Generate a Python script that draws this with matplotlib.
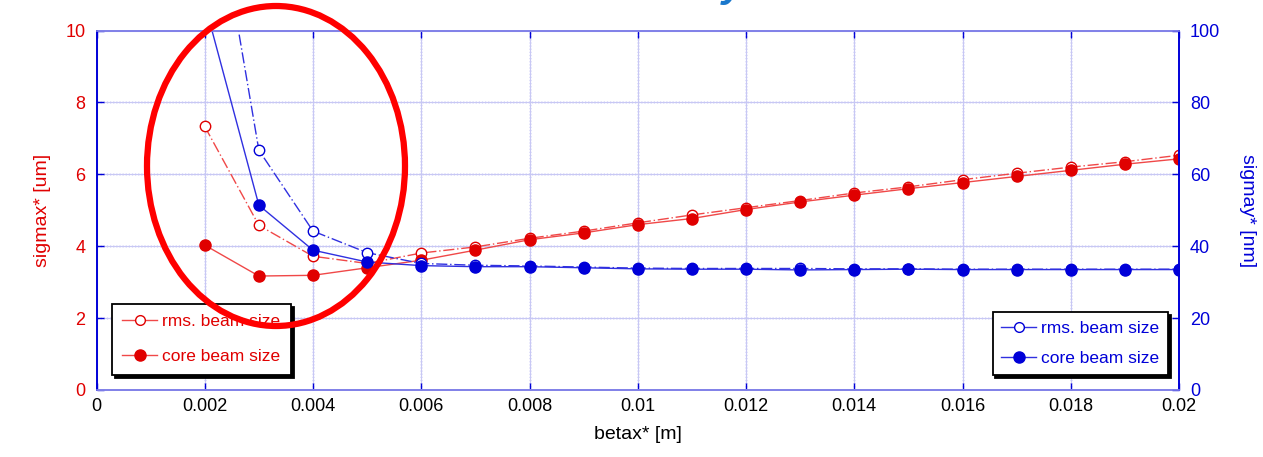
import matplotlib
matplotlib.use("Agg")
import matplotlib.pyplot as plt
from matplotlib.lines import Line2D
from matplotlib.patches import Ellipse

plt.rcParams['font.family'] = ['Liberation Sans', 'DejaVu Sans']

# beam sizes vs horizontal beta* at the IP
betax = [0.002, 0.003, 0.004, 0.005, 0.006, 0.007, 0.008, 0.009, 0.010, 0.011,
         0.012, 0.013, 0.014, 0.015, 0.016, 0.017, 0.018, 0.019, 0.020]
sigx_rms = [7.33, 4.58, 3.72, 3.52, 3.81, 3.98, 4.22, 4.42, 4.65, 4.87,
            5.07, 5.27, 5.48, 5.65, 5.85, 6.03, 6.20, 6.35, 6.53]
sigx_core = [4.03, 3.17, 3.19, 3.40, 3.61, 3.89, 4.18, 4.37, 4.60, 4.77,
             5.02, 5.23, 5.42, 5.60, 5.77, 5.94, 6.11, 6.28, 6.43]
sigy_rms = [155.0, 66.7, 44.2, 38.2, 35.2, 34.7, 34.5, 34.2, 33.9, 33.8,
            33.8, 33.8, 33.7, 33.7, 33.6, 33.6, 33.6, 33.6, 33.6]
sigy_core = [107.5, 51.4, 38.9, 35.6, 34.6, 34.3, 34.3, 34.0, 33.7, 33.6,
             33.6, 33.4, 33.5, 33.6, 33.5, 33.5, 33.5, 33.5, 33.5]

xticks = [0, 0.002, 0.004, 0.006, 0.008, 0.01, 0.012, 0.014, 0.016, 0.018, 0.02]
xticklabels = ['0', '0.002', '0.004', '0.006', '0.008', '0.01', '0.012',
               '0.014', '0.016', '0.018', '0.02']
yticks_left = [0, 2, 4, 6, 8, 10]
yticks_right = [0, 20, 40, 60, 80, 100]

RED = '#e00000'
RED_LINE = '#f04848'
BLUE = '#0000d8'
BLUE_LINE = '#3030e0'
FRAME = '#8080e8'

fig = plt.figure(figsize=(12.63, 4.57), dpi=100)
ax = fig.add_axes([96.5 / 1263, 1 - 390 / 457, (1179 - 96.5) / 1263, (390 - 30.5) / 457])
ax2 = ax.twinx()

# horizontal size (left axis)
ax.plot(betax, sigx_rms, linestyle=(0, (8, 2, 1, 2)), color=RED_LINE, lw=1.0,
        marker='o', ms=7.5, mfc='white', mec=RED, mew=1.0)
ax.plot(betax, sigx_core, linestyle='-', color=RED_LINE, lw=1.0,
        marker='o', ms=8, mfc=RED, mec=RED)

# vertical size (right axis)
ax2.plot(betax, sigy_rms, linestyle=(0, (8, 2, 1, 2)), color=BLUE_LINE, lw=1.0,
         marker='o', ms=7.5, mfc='white', mec=BLUE, mew=1.0)
ax2.plot(betax, sigy_core, linestyle='-', color=BLUE_LINE, lw=1.0,
         marker='o', ms=8, mfc=BLUE, mec=BLUE)

ax.set_xlim(0, 0.02)
ax.set_ylim(0, 10)
ax2.set_ylim(0, 100)

ax.set_xticks(xticks)
ax.set_xticklabels(xticklabels)
ax.set_yticks(yticks_left)
ax2.set_yticks(yticks_right)

ax.grid(True, color='#c8c8f4', lw=0.8, ls='-')
for v in xticks[1:-1]:
    ax.axvline(v, color='#2020e0', lw=0.9, ls=(0, (1, 1.5)), zorder=1)
for v in yticks_left[1:-1]:
    ax.axhline(v, color='#2020e0', lw=0.9, ls=(0, (1, 1.5)), zorder=1)

for a in (ax, ax2):
    a.tick_params(direction='in', length=5, width=1, color=BLUE, top=True)
    a.spines['top'].set_color(FRAME)
    a.spines['bottom'].set_color(FRAME)
    a.spines['left'].set_color(BLUE)
    a.spines['right'].set_color(BLUE)
    for s in a.spines.values():
        s.set_linewidth(1.2)

ax.tick_params(axis='x', labelsize=13, labelcolor='black', pad=6)
ax.tick_params(axis='y', labelsize=13, labelcolor=RED, pad=8)
ax2.tick_params(axis='y', labelsize=13, labelcolor=BLUE, pad=8)

ax.set_xlabel('betax* [m]', fontsize=14, labelpad=8)
ax.set_ylabel('sigmax* [um]', fontsize=14, color=RED, labelpad=10)
ax2.set_ylabel('sigmay* [nm]', fontsize=14, color=BLUE, rotation=270, labelpad=26)

shadow = {'color': 'black', 'alpha': 1.0}

red_handles = [
    Line2D([], [], color=RED_LINE, lw=1.0, marker='o', ms=7, mfc='white', mec=RED),
    Line2D([], [], color=RED_LINE, lw=1.0, marker='o', ms=8, mfc=RED, mec=RED),
]
leg1 = ax.legend(red_handles, ['rms. beam size', 'core beam size'],
                 loc='lower left', bbox_to_anchor=(0.0143, 0.042), borderaxespad=0,
                 fontsize=12.5, labelcolor=RED, fancybox=False, edgecolor='black',
                 framealpha=1, handlelength=2.0, handletextpad=0.3,
                 borderpad=0.6, labelspacing=1.15, shadow=shadow)
leg1.get_frame().set_linewidth(1.3)

blue_handles = [
    Line2D([], [], color=BLUE_LINE, lw=1.0, marker='o', ms=7, mfc='white', mec=BLUE),
    Line2D([], [], color=BLUE_LINE, lw=1.0, marker='o', ms=8, mfc=BLUE, mec=BLUE),
]
leg2 = ax2.legend(blue_handles, ['rms. beam size', 'core beam size'],
                  loc='lower right', bbox_to_anchor=(0.9898, 0.042), borderaxespad=0,
                  fontsize=12.5, labelcolor=BLUE, fancybox=False, edgecolor='black',
                  framealpha=1, handlelength=2.0, handletextpad=0.3,
                  borderpad=0.5, labelspacing=0.85, shadow=shadow)
leg2.get_frame().set_linewidth(1.3)

# highlighted low-beta region
ring = Ellipse((276 / 1263, 1 - 166 / 457), 258 / 1263, 320 / 457,
               transform=fig.transFigure, fill=False, edgecolor='#ff0000',
               lw=4.5, zorder=10)
fig.add_artist(ring)

# slide title, mostly off the top edge
fig.text(733 / 1263, 1.0 + 4 / 457, 'y', fontsize=30, fontstyle='italic', fontweight='bold',
         color='#1a78cc', ha='center', va='baseline')

fig.savefig('out.png', dpi=100)
